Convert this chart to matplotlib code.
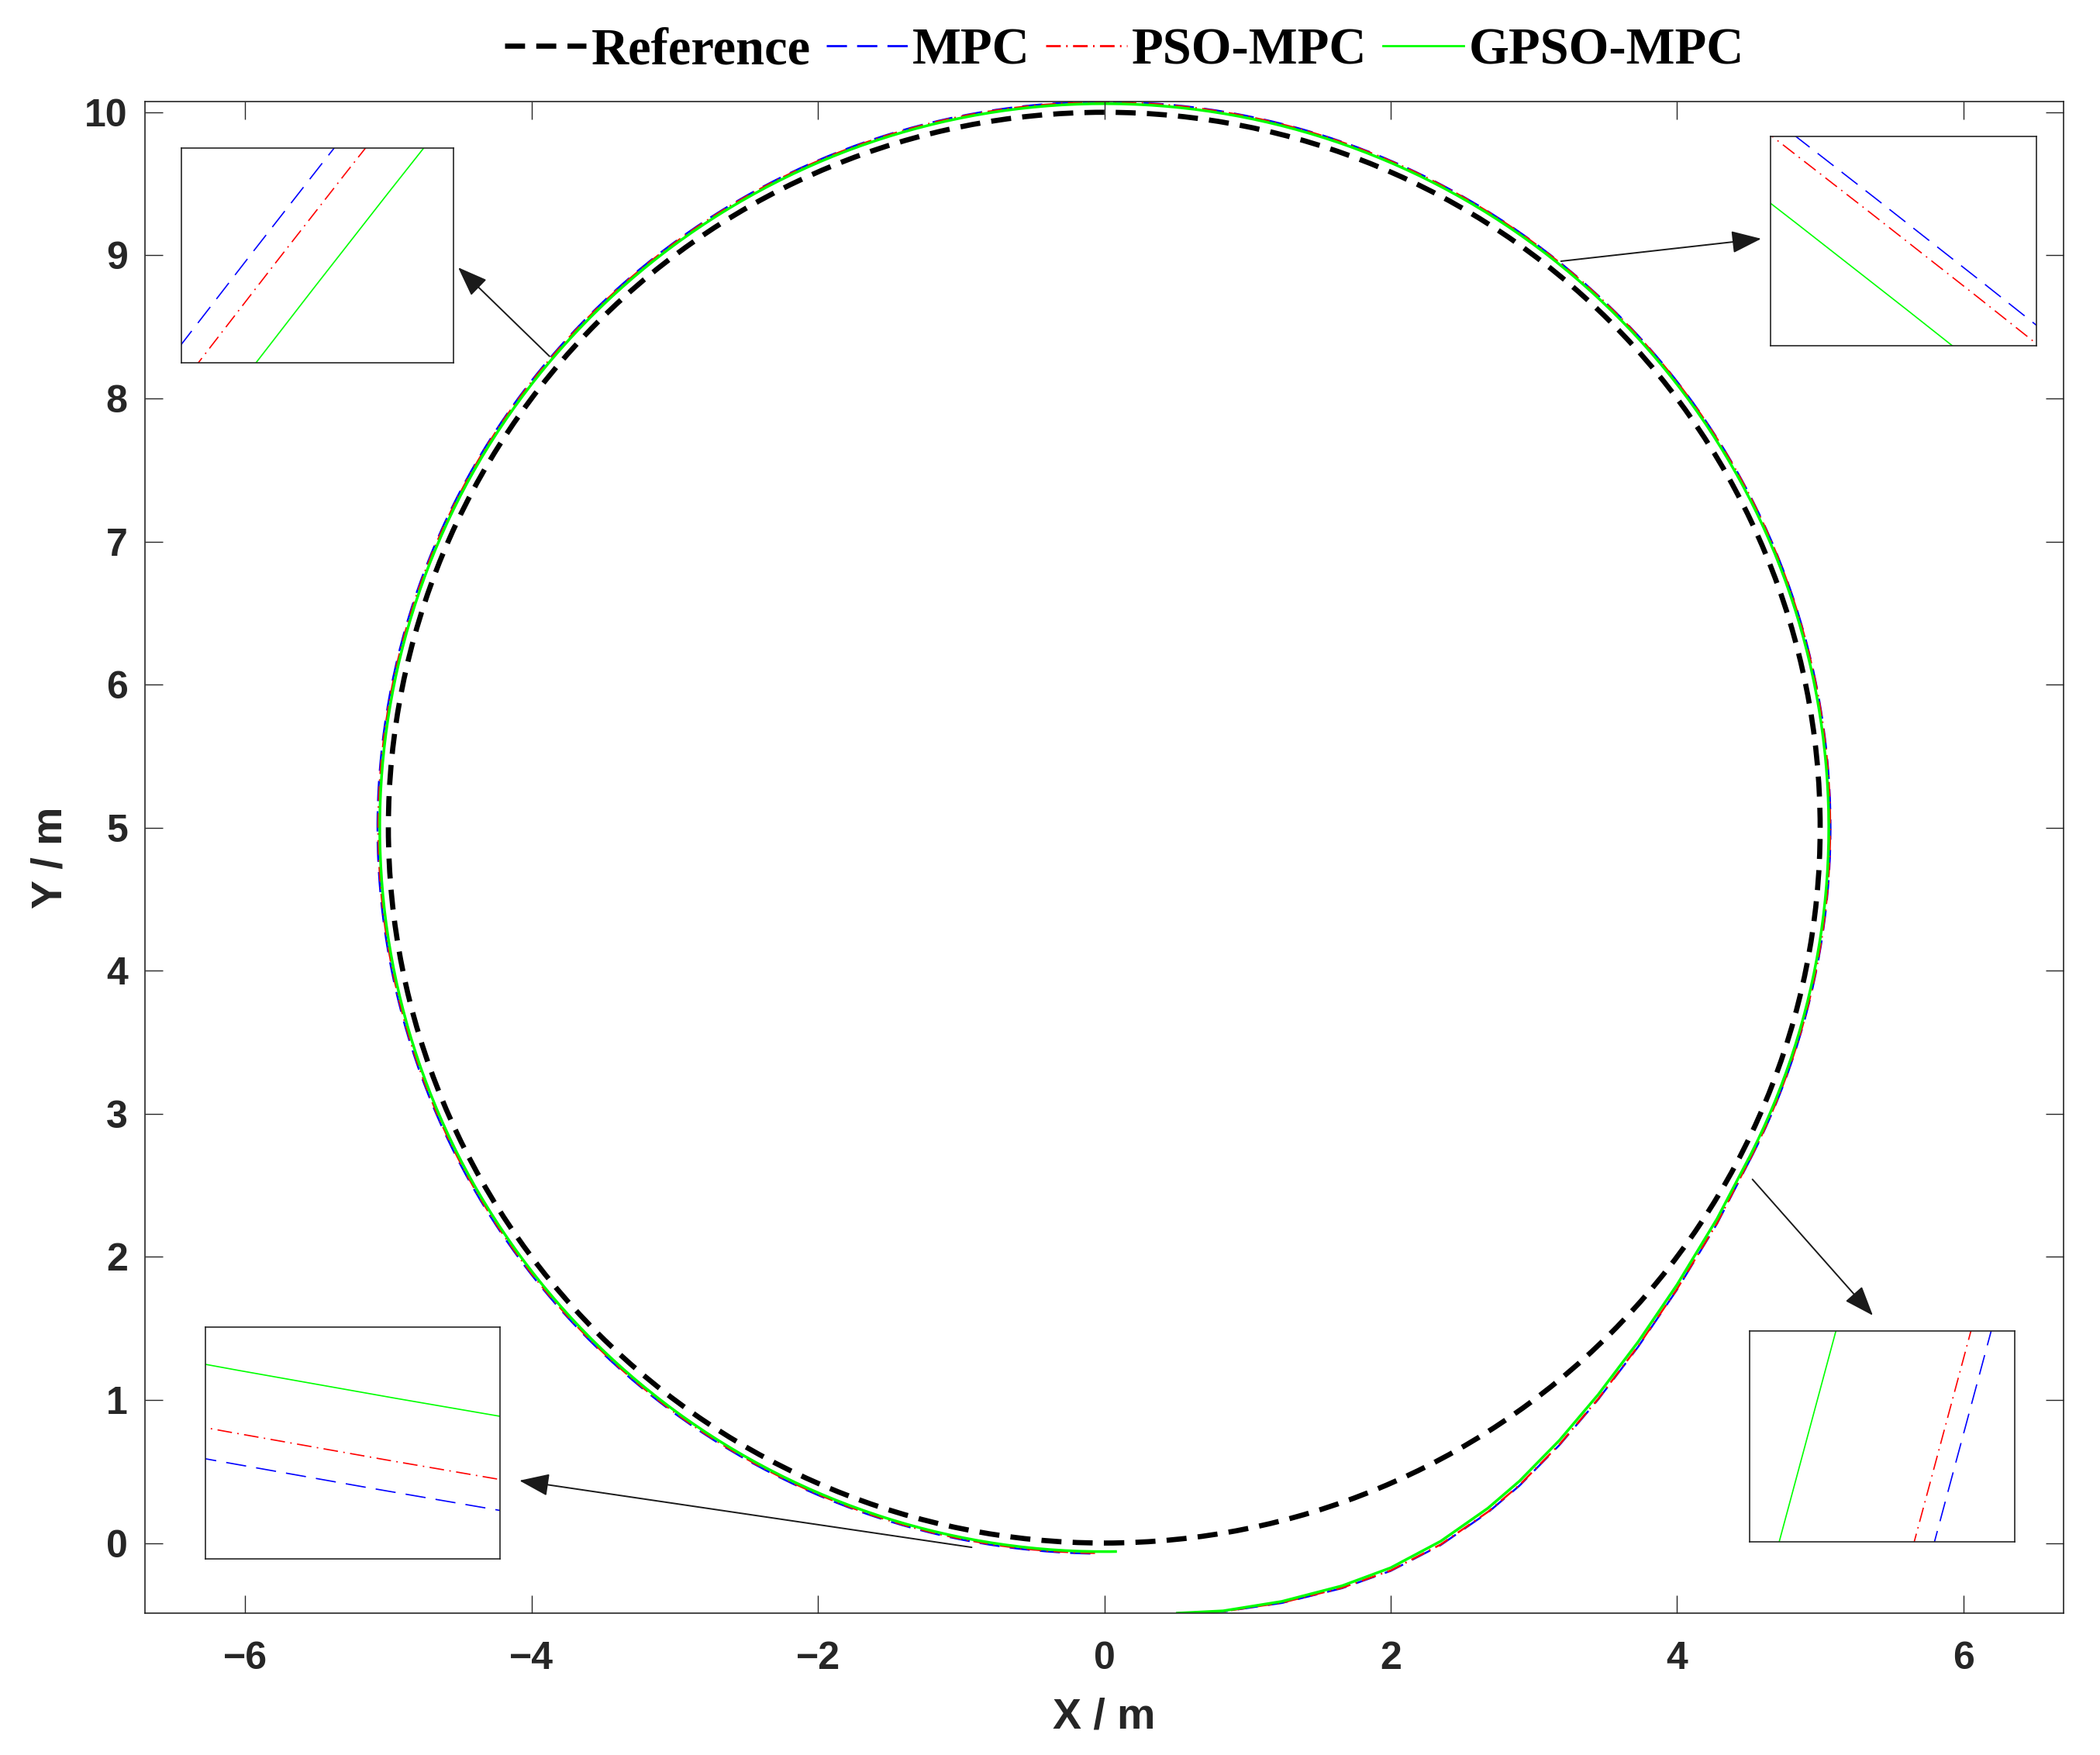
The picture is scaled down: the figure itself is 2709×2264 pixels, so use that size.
import numpy as np
import matplotlib
matplotlib.use('Agg')
import matplotlib.pyplot as plt
from matplotlib.patches import Arc, Circle
from matplotlib.font_manager import FontProperties

plt.rcParams['lines.scale_dashes'] = False
plt.rcParams['font.family'] = 'Liberation Sans'
plt.rcParams['font.weight'] = 'bold'
plt.rcParams['axes.unicode_minus'] = True

# reference path (circle)
ref_center = (0.0, 5.0)
ref_radius = 5.0

# start-up section of each tracked path, read point by point
gpso_x = [0.51, 0.83, 1.24, 1.66, 2.00, 2.35, 2.68, 2.90, 3.18, 3.45, 3.73, 4.00, 4.28, 4.496]
gpso_y = [-0.490, -0.474, -0.408, -0.299, -0.173, 0.013, 0.244, 0.433, 0.719, 1.038, 1.408, 1.805, 2.267, 2.679]
pso_x = [0.51, 0.83, 1.24, 1.66, 2.00, 2.35, 2.68, 2.90, 3.18, 3.45, 3.73, 4.00, 4.28, 4.505]
pso_y = [-0.490, -0.478, -0.417, -0.313, -0.192, -0.010, 0.218, 0.405, 0.690, 1.008, 1.378, 1.775, 2.237, 2.675]
mpc_x = [0.51, 0.83, 1.24, 1.66, 2.00, 2.35, 2.68, 2.90, 3.18, 3.45, 3.73, 4.00, 4.28, 4.507]
mpc_y = [-0.490, -0.479, -0.419, -0.316, -0.195, -0.014, 0.214, 0.401, 0.686, 1.004, 1.3735, 1.7705, 2.2325, 2.673]

# steady tracking section: arc (center, radius, end angle in deg)
arc_start = -27.3
gpso_center, gpso_radius, gpso_end = (0.0, 5.0), 5.060, 271.0
pso_center, pso_radius, pso_end = (0.0, 5.0), 5.070, 269.5
mpc_center, mpc_radius, mpc_end = (-0.00187, 4.99959), 5.07417, 269.5

ref_ls = (0, (9.3, 5.2))
tracks = [
    ('MPC', mpc_x, mpc_y, mpc_center, mpc_radius, mpc_end, (0, 0, 1), (0, (9.4, 4.7))),
    ('PSO-MPC', pso_x, pso_y, pso_center, pso_radius, pso_end, (1, 0, 0), (0, (6.8, 2.5, 0.7, 2.5))),
    ('GPSO-MPC', gpso_x, gpso_y, gpso_center, gpso_radius, gpso_end, (0, 1, 0), '-'),
]


def draw_paths(ax, lws, ref_lw):
    ax.add_patch(Circle(ref_center, ref_radius, fill=False, edgecolor='black',
                        lw=ref_lw, ls=ref_ls))
    hs = []
    for (name, x, y, c, r, t2, col, ls), lw in zip(tracks, lws):
        h, = ax.plot(x, y, color=col, lw=lw, ls=ls, label=name)
        ax.add_patch(Arc(c, 2 * r, 2 * r, theta1=arc_start, theta2=t2,
                         edgecolor=col, lw=lw, ls=ls))
        hs.append(h)
    return hs


dark = '#262626'
fig = plt.figure(figsize=(13.545, 11.32), dpi=200)
ax = fig.add_axes([0.06903, 0.08083, 0.91362, 0.86131])
handles = draw_paths(ax, [0.9, 0.9, 1.25], 2.4)
ref_h, = ax.plot([], [], color='black', lw=2.4, ls=ref_ls, label='Reference')

ax.set_xlim(-6.7, 6.7)
ax.set_ylim(-0.49, 10.075)
ax.set_xticks(np.arange(-6, 7, 2))
ax.set_yticks(np.arange(0, 11, 1))
ax.tick_params(direction='in', length=8.3, width=0.5, top=True, right=True,
               labelsize=18, color=dark, labelcolor=dark)
ax.tick_params(axis='y', pad=8)
ax.tick_params(axis='x', pad=13)
for s in ax.spines.values():
    s.set_color(dark)
    s.set_linewidth(0.6)

ax.set_xlabel('X / m', fontsize=20, fontweight='bold', color=dark)
ax.set_ylabel('Y / m', fontsize=20, fontweight='bold', color=dark)
ax.xaxis.label.set_va('center')
ax.xaxis.set_label_coords(0.5, -0.069)
ax.yaxis.label.set_va('center')
ax.yaxis.set_label_coords(-0.0489, 0.5)

# legend lines: same styles, GPSO a bit thinner like the original handle
leg = ax.legend([ref_h] + handles, ['Reference', 'MPC', 'PSO-MPC', 'GPSO-MPC'],
                loc='center', bbox_to_anchor=(0.5356, 0.9708),
                bbox_transform=fig.transFigure, ncol=4, frameon=False,
                prop=FontProperties(family='Liberation Serif', weight='bold', size=24),
                handlelength=1.57, handletextpad=0.1, columnspacing=0.3,
                borderpad=0, borderaxespad=0)
for ln in leg.get_lines()[1:]:
    ln.set_linewidth(1.0)

# zoomed views
views = [
    ([0.08638, 0.79329, 0.12957, 0.12235], (-4.0218, -3.9622), (8.0919, 8.1389)),
    ([0.84311, 0.80300, 0.12662, 0.11926], (3.1044, 3.1538), (8.9693, 9.0082)),
    ([0.09782, 0.11175, 0.14027, 0.13207], (-0.9024, -0.8551), (-0.0101, 0.0271)),
    ([0.83315, 0.12147, 0.12625, 0.12014], (4.1322, 4.1679), (2.0297, 2.0423)),
]
for box, xl, yl in views:
    ins = fig.add_axes(box)
    draw_paths(ins, [0.6, 0.6, 0.6], 2.4)
    ins.set_xlim(*xl)
    ins.set_ylim(*yl)
    ins.set_xticks([])
    ins.set_yticks([])
    for s in ins.spines.values():
        s.set_color(dark)
        s.set_linewidth(0.6)

# arrows from the path to the zoomed views
arrow_tails = [(-3.874, 8.294), (3.190, 8.959), (4.527, 2.542), (-0.926, -0.030)]
arrow_heads = [(0.21816, 0.84761), (0.83869, 0.86396), (0.89184, 0.25044), (0.24733, 0.15636)]
for tail, head in zip(arrow_tails, arrow_heads):
    ax.annotate('', xy=head, xycoords='figure fraction', xytext=tail, textcoords='data',
                annotation_clip=False,
                arrowprops=dict(arrowstyle='-|>,head_length=0.8,head_width=0.3',
                                mutation_scale=15, color='#1a1a1a', lw=0.7,
                                shrinkA=0, shrinkB=0))

fig.savefig('out.png', dpi=200)
